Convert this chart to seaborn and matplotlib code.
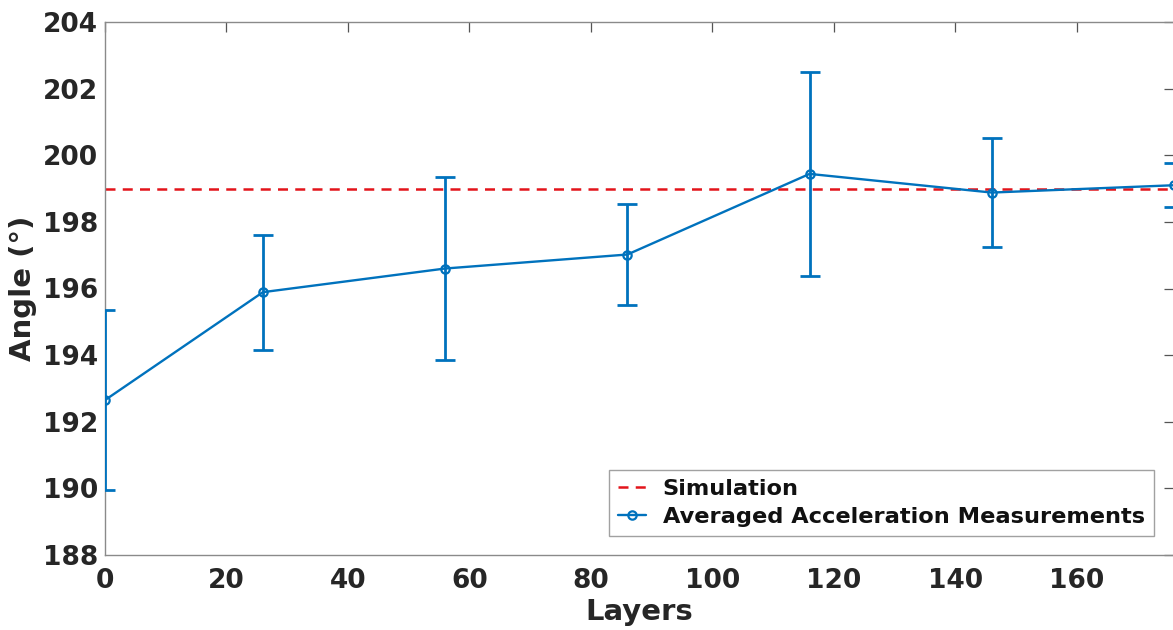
import matplotlib
matplotlib.use("Agg")
import matplotlib.pyplot as plt
import seaborn as sns
import pandas as pd

# data
layers = [0, 26, 56, 86, 116, 146, 176]
angle_mean = [192.65, 195.89, 196.60, 197.02, 199.44, 198.88, 199.10]
angle_err = [2.69, 1.73, 2.74, 1.53, 3.07, 1.63, 0.66]
simulation_angle = 199.0

y_ticks = [188, 190, 192, 194, 196, 198, 200, 202, 204]
x_ticks = [0, 20, 40, 60, 80, 100, 120, 140, 160]

blue = "#0072BD"
red = "#E3141B"


def main():
    sns.set_theme(style="white")
    plt.rcParams["font.family"] = ["DejaVu Sans"]
    plt.rcParams["font.weight"] = "bold"

    df = pd.DataFrame({"Layers": layers, "Angle": angle_mean, "err": angle_err})

    fig = plt.figure(figsize=(11.73, 6.30), dpi=100)
    ax = fig.add_axes([105 / 1173, 75 / 630, 1069 / 1173, 533 / 630])

    ax.axhline(simulation_angle, color=red, lw=1.8, dashes=(4.0, 2.9), label="Simulation", zorder=2)
    ax.errorbar(df["Layers"], df["Angle"], yerr=df["err"], fmt="none", ecolor=blue,
                elinewidth=2.0, capsize=7.5, capthick=2.0, zorder=3, clip_on=True)
    sns.lineplot(data=df, x="Layers", y="Angle", ax=ax, color=blue, lw=1.7, marker="o",
                 markersize=6, markerfacecolor="none", markeredgecolor=blue, markeredgewidth=1.6,
                 label="Averaged Acceleration Measurements", zorder=4)

    ax.set_xlim(0, 176)
    ax.set_ylim(188, 204)
    ax.set_xticks(x_ticks)
    ax.set_yticks(y_ticks)
    ax.tick_params(direction="in", length=7, width=0.9, color="#555555", labelsize=19,
                   labelcolor="#262626", top=True, right=True)
    ax.tick_params(axis="x", pad=9)
    ax.tick_params(axis="y", pad=5)
    for lab in ax.get_xticklabels() + ax.get_yticklabels():
        lab.set_fontweight("bold")
    for sp in ax.spines.values():
        sp.set_visible(True)
        sp.set_color("#8a8a8a")
        sp.set_linewidth(1.0)

    ax.set_xlabel("Layers", fontsize=21, fontweight="bold", color="#262626", labelpad=3)
    ax.set_ylabel("Angle (°)", fontsize=21, fontweight="bold", color="#262626", labelpad=4)

    leg = ax.legend(loc="lower right", bbox_to_anchor=(0.981, 0.036), borderaxespad=0,
                    fontsize=16.2, handlelength=1.25, handletextpad=0.75, borderpad=0.4,
                    labelspacing=0.35, frameon=True, fancybox=False)
    leg.get_frame().set_edgecolor("#8a8a8a")
    leg.get_frame().set_linewidth(1.0)
    for t in leg.get_texts():
        t.set_fontweight("bold")
        t.set_color("#111111")

    fig.savefig("out.png", dpi=100)


if __name__ == "__main__":
    main()
